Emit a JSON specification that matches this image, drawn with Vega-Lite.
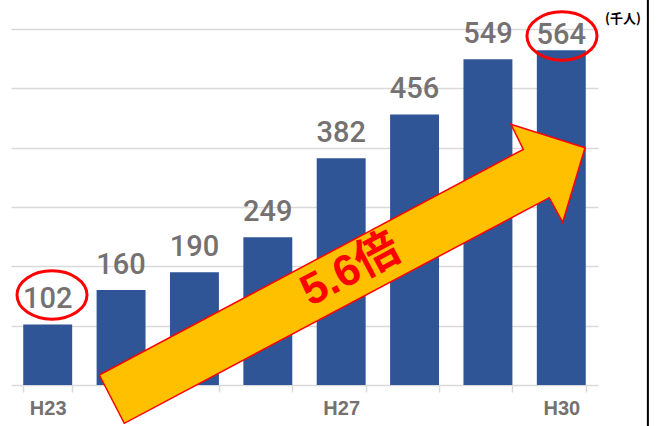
{
  "$schema": "https://vega.github.io/schema/vega-lite/v6.json",
  "width": 587,
  "height": 356,
  "autosize": "none",
  "padding": {"left": 11, "top": 29, "right": 60, "bottom": 41},
  "background": "white",
  "config": {"view": {"stroke": null}},
  "resolve": {"scale": {"x": "independent"}},
  "layer": [
    {
      "data": {"values": [
        {"year": "H23", "value": 102},
        {"year": "H24", "value": 160},
        {"year": "H25", "value": 190},
        {"year": "H26", "value": 249},
        {"year": "H27", "value": 382},
        {"year": "H28", "value": 456},
        {"year": "H29", "value": 549},
        {"year": "H30", "value": 564}
      ]},
      "layer": [
        {
          "mark": {"type": "bar", "color": "#2F5597"},
          "encoding": {
            "x": {"field": "year", "type": "nominal", "sort": null,
              "scale": {"paddingInner": 0.333, "paddingOuter": 0.1667},
              "axis": {"title": null, "labelAngle": 0, "domainColor": "#d9d9d9", "domainWidth": 1.5,
                "tickColor": "#d9d9d9", "tickWidth": 1.5, "tickSize": 7, "tickBand": "extent",
                "labelExpr": "indexof(['H23','H27','H30'], datum.value) >= 0 ? datum.value : ''",
                "labelFont": "Liberation Sans", "labelFontWeight": "bold", "labelFontSize": 20,
                "labelColor": "#767171", "labelPadding": 6}},
            "y": {"field": "value", "type": "quantitative",
              "scale": {"domain": [0, 600], "nice": false},
              "axis": {"title": null, "labels": false, "ticks": false, "domain": false,
                "values": [100, 200, 300, 400, 500, 600], "gridColor": "#d9d9d9", "gridWidth": 1.3}}
          }
        },
        {
          "mark": {"type": "text", "baseline": "alphabetic", "dy": {"expr": "datum.value > 560 ? -6 : -16"}, "font": "Roboto",
            "fontSize": 29, "fontWeight": 500, "color": "#767171"},
          "encoding": {
            "x": {"field": "year", "type": "nominal", "sort": null},
            "y": {"field": "value", "type": "quantitative", "scale": {"domain": [0, 600], "nice": false}},
            "text": {"field": "value", "type": "quantitative"}
          }
        }
      ]
    },
    {
      "data": {"values": [
        {"i": 1, "u": 1.2034, "v": 16.85},
        {"i": 2, "u": 6.982, "v": 397.2},
        {"i": 3, "u": 6.814, "v": 439.4},
        {"i": 4, "u": 7.823, "v": 399.9},
        {"i": 5, "u": 7.519, "v": 274.2},
        {"i": 6, "u": 7.336, "v": 315.7},
        {"i": 7, "u": 1.544, "v": -64.6},
        {"i": 8, "u": 1.2034, "v": 16.85}
      ]},
      "mark": {"type": "line", "fill": "#FFC000", "stroke": "#FF0000", "strokeWidth": 1.5, "clip": false, "strokeJoin": "miter"},
      "encoding": {
        "x": {"field": "u", "type": "quantitative", "scale": {"domain": [0, 8], "nice": false, "zero": false}, "axis": null},
        "y": {"field": "v", "type": "quantitative", "scale": {"domain": [0, 600], "nice": false}},
        "order": {"field": "i", "type": "quantitative"}
      }
    },
    {
      "data": {"values": [{"u": 4.63, "v": 193.0, "label": "5.6倍"}]},
      "mark": {"type": "text", "angle": 332, "font": "Liberation Sans, Noto Sans CJK JP", "fontWeight": "bold",
        "fontSize": 44, "color": "#FF0000", "baseline": "middle", "align": "center"},
      "encoding": {
        "x": {"field": "u", "type": "quantitative", "scale": {"domain": [0, 8], "nice": false, "zero": false}, "axis": null},
        "y": {"field": "v", "type": "quantitative", "scale": {"domain": [0, 600], "nice": false}},
        "text": {"field": "label"}
      }
    },
    {
      "data": {"values": [{"u": 0.5588, "v": 151.7}, {"u": 7.509, "v": 588.2}]},
      "mark": {"type": "point", "shape": "M-1,0A1,0.69 0 1,1 1,0A1,0.69 0 1,1 -1,0Z", "size": 4900,
        "filled": false, "stroke": "#FF0000", "strokeWidth": 3, "opacity": 1, "clip": false},
      "encoding": {
        "x": {"field": "u", "type": "quantitative", "scale": {"domain": [0, 8], "nice": false, "zero": false}, "axis": null},
        "y": {"field": "v", "type": "quantitative", "scale": {"domain": [0, 600], "nice": false}}
      }
    },
    {
      "data": {"values": [{"u": 8.341, "v": 617, "label": "(千人)"}]},
      "mark": {"type": "text", "font": "Noto Sans CJK JP", "fontWeight": "bold", "fontSize": 13,
        "color": "#000000", "baseline": "middle", "align": "center"},
      "encoding": {
        "x": {"field": "u", "type": "quantitative", "scale": {"domain": [0, 8], "nice": false, "zero": false}, "axis": null},
        "y": {"field": "v", "type": "quantitative", "scale": {"domain": [0, 600], "nice": false}},
        "text": {"field": "label"}
      }
    },
    {
      "data": {"values": [{"u": 8.68, "v": 660, "v2": -80}]},
      "mark": {"type": "rule", "color": "#000000", "strokeWidth": 2, "clip": false},
      "encoding": {
        "x": {"field": "u", "type": "quantitative", "scale": {"domain": [0, 8], "nice": false, "zero": false}, "axis": null},
        "y": {"field": "v", "type": "quantitative", "scale": {"domain": [0, 600], "nice": false}},
        "y2": {"field": "v2"}
      }
    }
  ]
}
